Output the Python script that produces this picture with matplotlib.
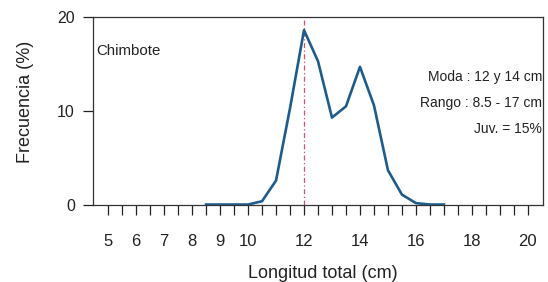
import numpy as np
import matplotlib
matplotlib.use("Agg")
import matplotlib.pyplot as plt

plt.rcParams['font.family'] = ['Liberation Sans', 'DejaVu Sans']

# =========================
# Data
# =========================

longitud = [8.5, 9, 9.5, 10, 10.5, 11, 11.5, 12, 12.5, 13,
            13.5, 14, 14.5, 15, 15.5, 16, 16.5, 17]
frecuencia = [0.05, 0.05, 0.05, 0.05, 0.4, 2.6, 10.3, 18.6, 15.3, 9.3,
              10.5, 14.7, 10.6, 3.7, 1.1, 0.2, 0.05, 0.05]

moda = 12
x_labels = [5, 6, 7, 8, 9, 10, 12, 14, 16, 18, 20]
minor_ticks = np.arange(5, 20.01, 0.5)

notas = ["Moda : 12 y 14 cm", "Rango : 8.5 - 17 cm", "Juv. = 15%"]

# =========================
# Figure
# =========================

fig = plt.figure(figsize=(5.48, 2.82), dpi=100)
ax = fig.add_axes([93 / 548, 1 - 205 / 282, 450 / 548, 188 / 282])

ax.plot(longitud, frecuencia, color='#1d5c8c', linewidth=1.9,
        solid_joinstyle='round', zorder=3)
ax.axvline(moda, color='#d9506e', linewidth=0.9,
           linestyle=(0, (4, 2, 1, 2)), zorder=2)

ax.set_xlim(4.46, 20.54)
ax.set_ylim(0, 20)

ax.set_yticks([0, 10, 20])
ax.tick_params(axis='y', direction='out', length=7, width=0.9,
               labelsize=11.5, pad=6, color='#222222', labelcolor='#222222')

ax.set_xticks(minor_ticks)
ax.set_xticklabels([''] * len(minor_ticks))
ax.tick_params(axis='x', direction='out', length=7, width=0.9,
               color='#222222')
for xl in x_labels:
    ax.text(xl, -0.218, str(xl), transform=ax.get_xaxis_transform(),
            ha='center', va='baseline', fontsize=12, color='#222222')

for s in ax.spines.values():
    s.set_linewidth(0.9)
    s.set_color('#333333')

# axis titles
fig.text(323 / 548, 1 - 278 / 282, "Longitud total (cm)", ha='center',
         va='baseline', fontsize=13, color='#222222')
fig.text(25 / 548, 1 - 102 / 282, "Frecuencia (%)", ha='center',
         va='center', rotation=90, fontsize=13, color='#222222')

ax.text(0.008, 0.798, "Chimbote", transform=ax.transAxes,
        fontsize=10.8, ha='left', va='baseline', color='#222222')

for i, nota in enumerate(notas):
    ax.text(0.998, 0.660 - i * 0.138, nota, transform=ax.transAxes,
            fontsize=10, ha='right', va='baseline', color='#222222')

fig.savefig("out.png", dpi=100)
